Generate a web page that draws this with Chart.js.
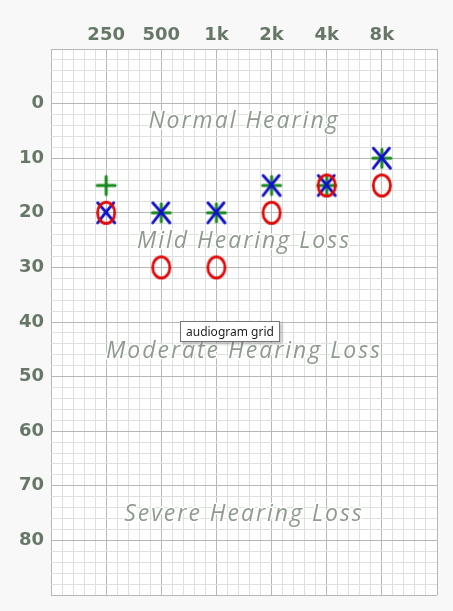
<!DOCTYPE html>
<html>
<head>
<meta charset="utf-8">
<script src="https://cdn.jsdelivr.net/npm/chart.js@4/dist/chart.umd.min.js"></script>
<style>
  html, body { margin: 0; padding: 0; background: #f8f8f8; }
  #wrap { position: relative; width: 453px; height: 611px; }
  canvas { display: block; }
  #tip {
    position: absolute; left: 180px; top: 321px;
    padding: 1px 5px; line-height: 16px; background: #fff; border: 1px solid #767676;
    font: 12px "Noto Sans", "Liberation Sans", sans-serif; color: #222;
    box-shadow: 2px 2px 3px rgba(0,0,0,0.25); white-space: nowrap;
  }
</style>
</head>
<body>
<div id="wrap">
  <canvas id="c" width="453" height="611"></canvas>
  <div id="tip">audiogram grid</div>
</div>
<script>
// ---- data ----
const frequencies = ['250', '500', '1k', '2k', '4k', '8k'];
const yTickLabels = [0, 10, 20, 30, 40, 50, 60, 70, 80];
const maskedBone = [15, 20, 20, 15, 15, 10];   // green +
const leftEar    = [20, 20, 20, 15, 15, 10];   // blue X
const rightEar   = [20, 30, 30, 20, 15, 15];   // red O
const regionNames = ['Normal Hearing', 'Mild Hearing Loss', 'Moderate Hearing Loss', 'Severe Hearing Loss'];
const regionLevels = [3, 25, 45, 75];

// ---- marker images ----
function makeMarker(kind) {
  const c = document.createElement('canvas');
  c.width = 24; c.height = 26;
  const g = c.getContext('2d');
  g.lineCap = 'round';
  if (kind === 'O') {
    g.strokeStyle = '#e00808'; g.lineWidth = 2.8;
    g.beginPath(); g.ellipse(12, 13, 8.6, 10.6, 0, 0, Math.PI * 2); g.stroke();
  } else if (kind === 'X') {
    g.strokeStyle = '#1010cc'; g.lineWidth = 2.9;
    g.beginPath(); g.moveTo(3.5, 3); g.quadraticCurveTo(12, 12, 20.5, 23); g.stroke();
    g.beginPath(); g.moveTo(19.5, 3); g.quadraticCurveTo(11, 13, 3.5, 23); g.stroke();
  } else {
    g.strokeStyle = '#16881a'; g.lineWidth = 3;
    g.beginPath(); g.moveTo(12, 4); g.lineTo(12, 22); g.stroke();
    g.beginPath(); g.moveTo(3, 13); g.lineTo(21, 13); g.stroke();
  }
  return c;
}
const imgO = makeMarker('O'), imgX = makeMarker('X'), imgP = makeMarker('+');

const pts = arr => arr.map((v, i) => ({ x: i + 1, y: v }));

const majorC = '#b3b9b3', minorC = '#dde0dd';

const bgPlugin = {
  id: 'bg',
  beforeDraw(chart) {
    const { ctx, chartArea: a } = chart;
    ctx.save(); ctx.fillStyle = '#ffffff';
    ctx.fillRect(a.left, a.top, a.right - a.left, a.bottom - a.top);
    ctx.restore();
  }
};
const regionPlugin = {
  id: 'regions',
  afterDatasetsDraw(chart) {
    const { ctx, chartArea: a, scales } = chart;
    const fs = 23;
    ctx.save();
    ctx.font = 'italic ' + fs + 'px "Open Sans", sans-serif';
    ctx.letterSpacing = '2px';
    ctx.textAlign = 'center';
    ctx.textBaseline = 'alphabetic';
    regionNames.forEach((t, i) => {
      const y = scales.y.getPixelForValue(regionLevels[i]) + fs * 0.36;
      const x = (a.left + a.right) / 2;
      ctx.lineJoin = 'round';
      ctx.strokeStyle = 'rgba(255,255,255,0.95)'; ctx.lineWidth = 3;
      ctx.strokeText(t, x, y);
      ctx.fillStyle = '#8e9b8e';
      ctx.fillText(t, x, y);
    });
    ctx.restore();
  }
};

new Chart(document.getElementById('c'), {
  type: 'scatter',
  data: {
    datasets: [
      { data: pts(rightEar), pointStyle: imgO, pointRadius: 10, showLine: false },
      { data: pts(leftEar), pointStyle: imgX, pointRadius: 10, showLine: false },
      { data: pts(maskedBone), pointStyle: imgP, pointRadius: 10, showLine: false }
    ]
  },
  options: {
    responsive: false, animation: false,
    layout: { padding: { left: 0, top: 2, right: 16, bottom: 16 } },
    plugins: { legend: { display: false }, tooltip: { enabled: false } },
    scales: {
      x: {
        type: 'linear', position: 'top', min: 0, max: 7,
        afterFit: s => { s.height = 47; s.paddingLeft = 0; s.paddingRight = 0; },
        ticks: {
          stepSize: 0.2, autoSkip: false, maxRotation: 0, padding: 3,
          color: '#677767', font: { family: '"DejaVu Sans"', size: 18, weight: 'bold' },
          callback: v => {
            const r = Math.round(v * 5);
            if (r % 5 !== 0) return '';
            const k = r / 5;
            return (k >= 1 && k <= frequencies.length) ? frequencies[k - 1] : '';
          }
        },
        grid: {
          drawTicks: false,
          color: c => (Math.round(c.tick.value * 5) % 5 === 0 ? majorC : minorC)
        },
        border: { display: false }
      },
      y: {
        type: 'linear', reverse: true, min: -10, max: 90,
        afterFit: s => { s.width = 51; s.paddingTop = 0; s.paddingBottom = 0; },
        ticks: {
          stepSize: 2, autoSkip: false, padding: 7,
          color: '#677767', font: { family: '"DejaVu Sans"', size: 18, weight: 'bold' },
          callback: v => {
            const r = Math.round(v);
            return yTickLabels.includes(r) ? String(r) : '';
          }
        },
        grid: {
          drawTicks: false,
          color: c => (Math.round(c.tick.value) % 10 === 0 ? majorC : minorC)
        },
        border: { display: false }
      }
    }
  },
  plugins: [bgPlugin, regionPlugin]
});
</script>
</body>
</html>
